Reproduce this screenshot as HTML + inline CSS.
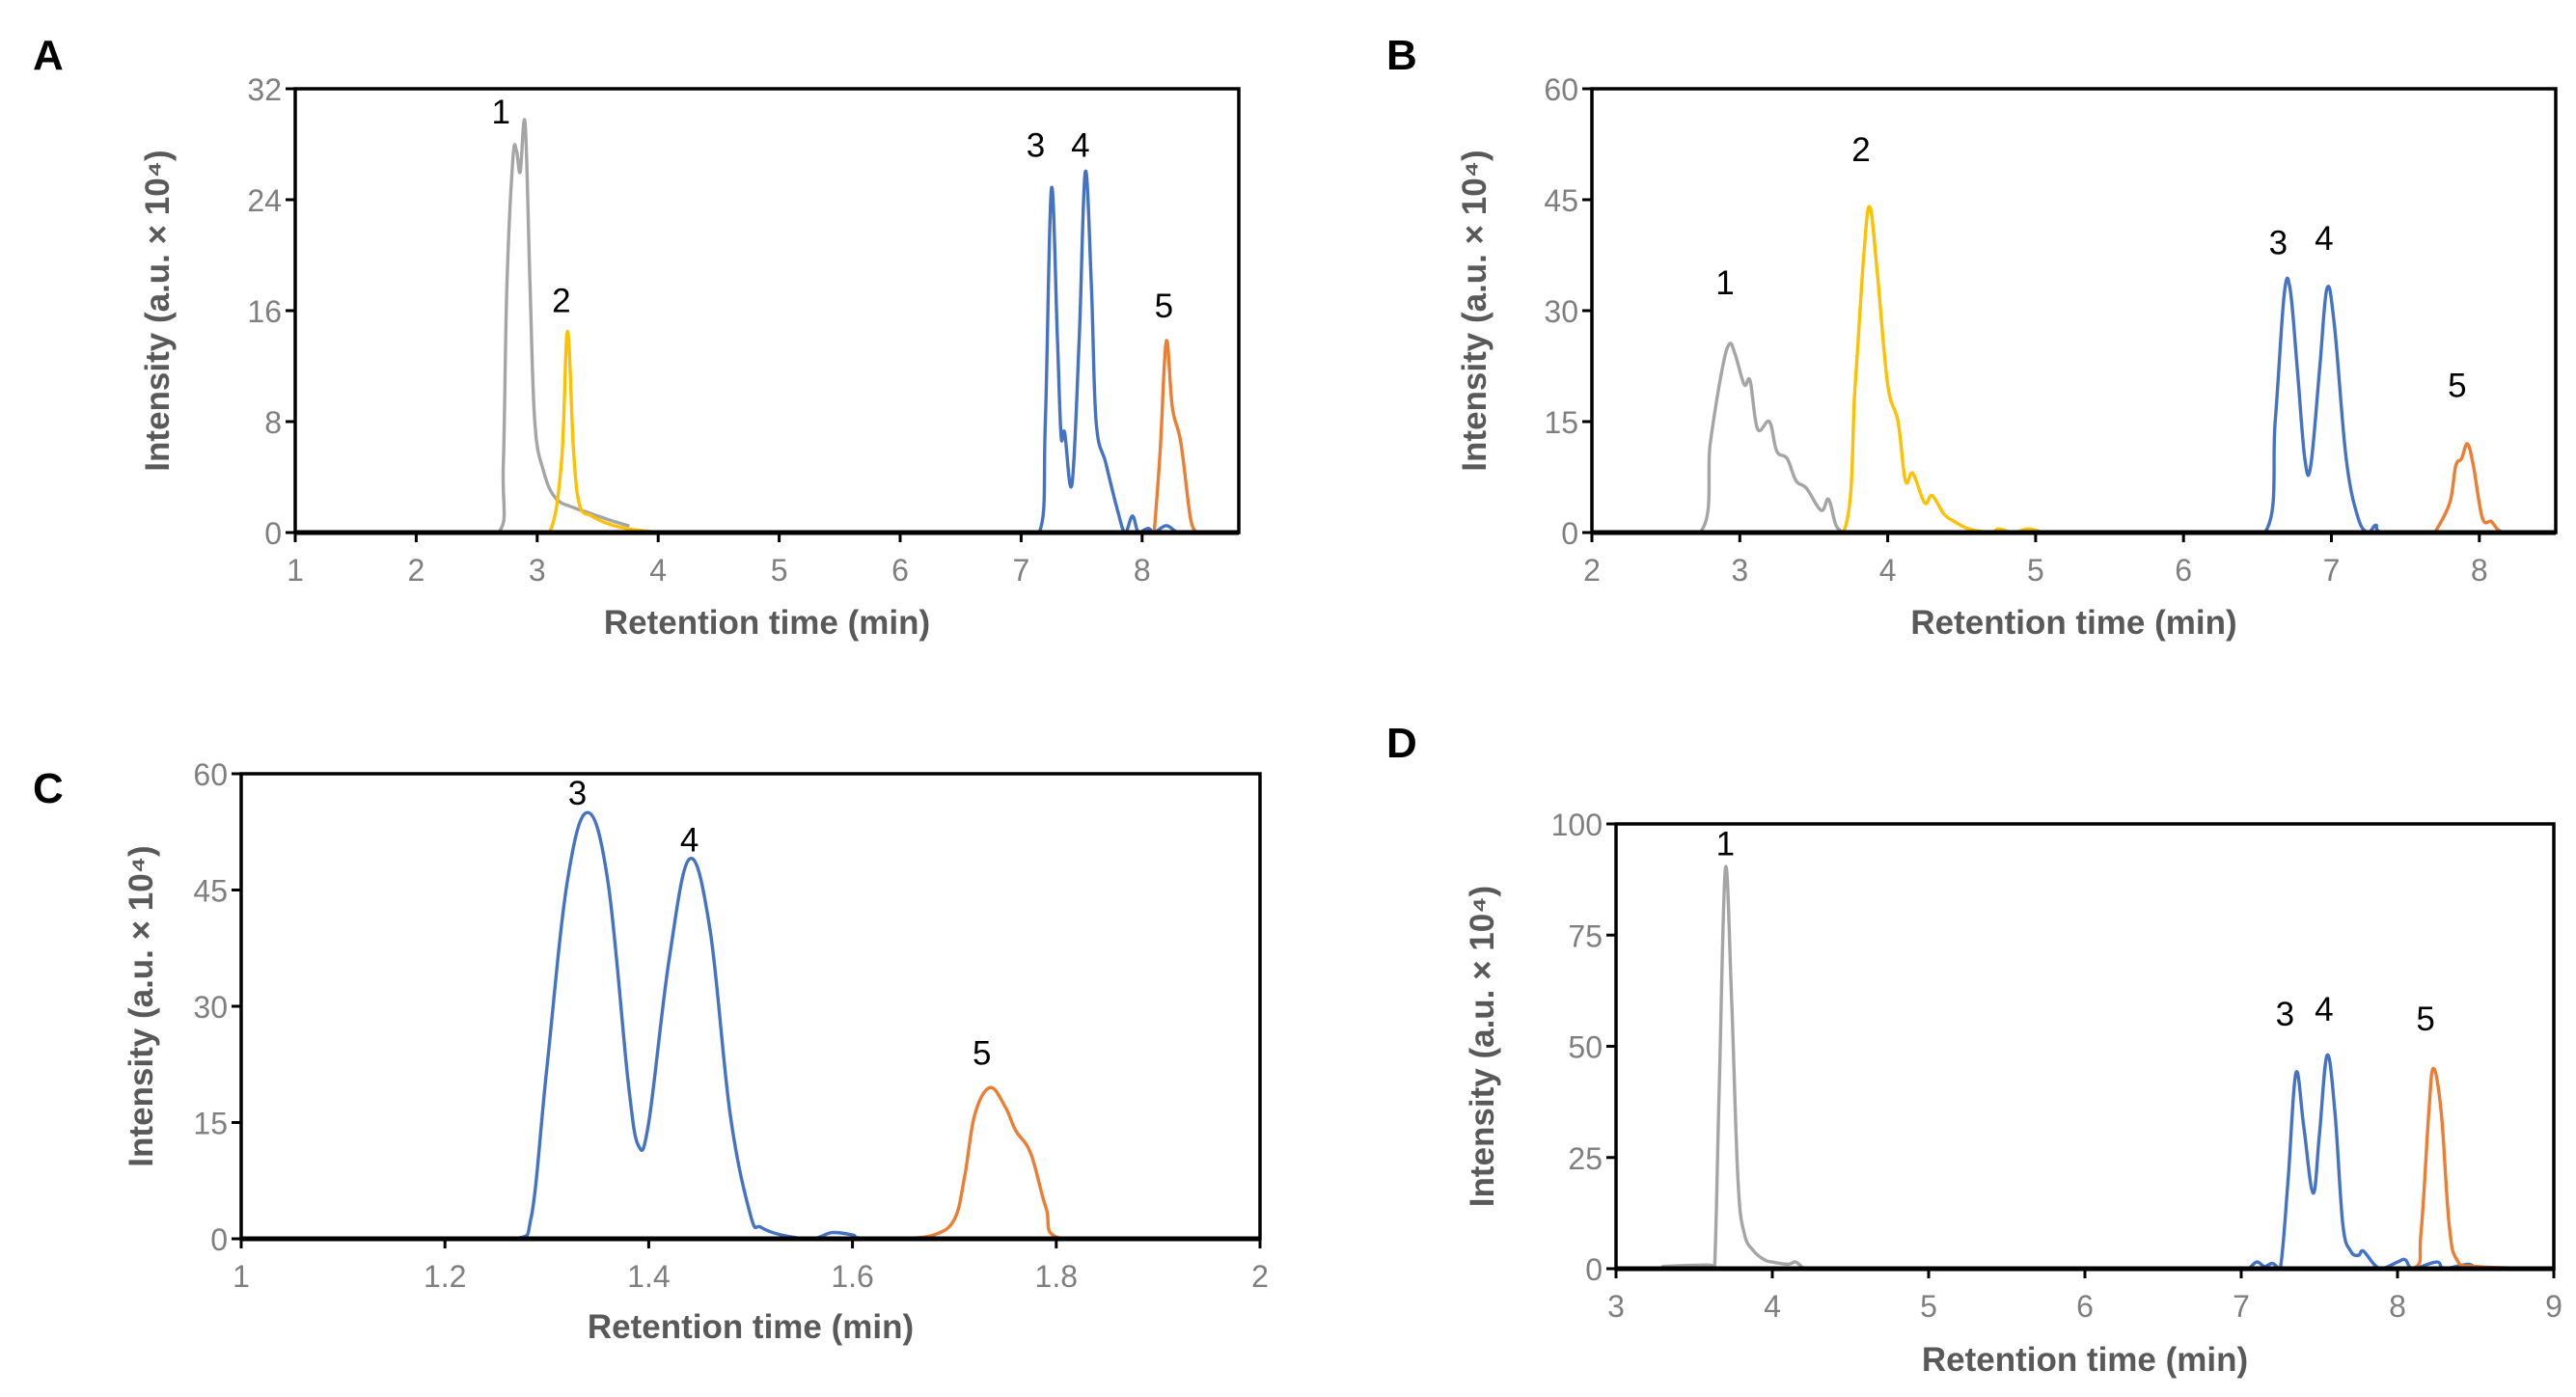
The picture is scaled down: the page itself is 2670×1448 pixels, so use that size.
<!DOCTYPE html>
<html><head><meta charset="utf-8">
<style>
html,body{margin:0;padding:0;background:#fff;}
svg{display:block;}
text{font-family:"Liberation Sans",sans-serif;}
</style></head>
<body>
<svg id="fig" width="2670" height="1448" viewBox="0 0 2670 1448" xmlns="http://www.w3.org/2000/svg"></svg>
<script>
// ---- Panel A data ----
const aGrayX=[2.25,2.68,2.72,2.75,2.8,2.83,2.86,2.9,2.94,2.98,3.05,3.15,3.3,3.4,3.5,3.6,3.75];
const aGrayY=[0,0,5,18,27,27.5,26,29.5,18,8,4.5,2.5,1.8,1.5,1.2,0.9,0.5];
const aYelX=[2.9,3.1,3.2,3.25,3.3,3.35,3.45,3.6,3.8,4.05];
const aYelY=[0,0,5,14.5,6,2,1.2,0.6,0.2,0];
const aBluX=[6.85,7.15,7.2,7.25,7.3,7.33,7.36,7.42,7.48,7.53,7.58,7.62,7.7,7.8,7.86,7.92,7.97,8.05,8.1,8.2,8.3,8.45];
const aBluY=[0,0,8,24.8,14,7,7.2,3.5,14,26,18,8,5,1.5,0,1.2,0,0.3,0,0.5,0,0];
const aOrX=[8.1,8.15,8.2,8.25,8.32,8.4,8.45];
const aOrY=[0,6,13.8,9,6.5,1,0];
const aLabels=["1","2","3","4","5"];
const aLabX=[2.70,3.2,7.12,7.49,8.18];
const aLabY=[29.5,15.9,27.1,27.1,15.5];
const aXTicks=[1,2,3,4,5,6,7,8];
const aYTicks=[0,8,16,24,32];
// ---- Panel B data ----
const bGrayX=[2.25,2.73,2.8,2.88,2.93,2.97,3.03,3.07,3.12,3.2,3.25,3.32,3.38,3.45,3.55,3.6,3.65,3.7];
const bGrayY=[0,0,12,22,25.5,24,20,20.5,14,15,11,10,7,6,3,4.5,1,0];
const bYelX=[3.35,3.7,3.78,3.84,3.88,3.93,4.0,4.07,4.12,4.17,4.25,4.3,4.38,4.45,4.55,4.7,4.75,4.85,4.95,5.05];
const bYelY=[0,0,20,38,44,35,20,15,7,8,4,5,2.5,1.5,0.5,0,0.5,0,0.5,0];
const bBluX=[6.1,6.55,6.62,6.68,6.72,6.77,6.82,6.86,6.92,6.97,7.02,7.1,7.18,7.25,7.3,7.35,7.7];
const bBluY=[0,0,15,32,33,22,10,9,22,33,28,10,2,0,1,0,0];
const bOrX=[7.7,7.8,7.84,7.88,7.92,7.96,8.02,8.08,8.12,8.16];
const bOrY=[0,4,9,10,12,9,2,1.5,0.5,0];
const bLabels=["1","2","3","4","5"];
const bLabX=[2.9,3.82,6.64,6.95,7.85];
const bLabY=[32.2,50.2,37.6,38.2,18.3];
const bXTicks=[2,3,4,5,6,7,8];
const bYTicks=[0,15,30,45,60];
// ---- Panel C data ----
const cBluX=[1.2,1.27,1.285,1.3,1.32,1.34,1.36,1.38,1.39,1.4,1.42,1.44,1.46,1.48,1.5,1.51,1.53,1.56,1.58,1.6,1.62,1.75];
const cBluY=[0,0,3,22,46,55,46,20,12,15,36,49,40,16,3,1.5,0.5,0,0.8,0.5,0,0];
const cOrX=[1.65,1.68,1.7,1.71,1.72,1.735,1.75,1.76,1.775,1.79,1.805,1.9];
const cOrY=[0,0.5,2.5,8,16,19.5,17,14,11,4,0,0];
const cLabels=["3","4","5"];
const cLabX=[1.33,1.44,1.727];
const cLabY=[56,50,22.5];
const cXTicks=[1,1.2,1.4,1.6,1.8,2];
const cYTicks=[0,15,30,45,60];
// ---- Panel D data ----
const dGrayX=[3.3,3.6,3.63,3.66,3.7,3.74,3.78,3.82,3.88,3.95,4.0,4.1,4.15,4.2];
const dGrayY=[0.5,0.8,0,40,90,60,20,8,4,2,1.5,1,1.5,0];
const dBluX=[7.05,7.1,7.15,7.2,7.25,7.3,7.35,7.4,7.46,7.5,7.55,7.6,7.65,7.7,7.75,7.78,7.85,7.9,8.0,8.05,8.1,8.25,8.3,8.45,8.5];
const dBluY=[0,1.5,0.5,1.2,0,20,44,32,17,30,48,35,10,4,3,4,1,0,1.5,2,0,1.5,0,1,0];
const dOrX=[7.75,8.1,8.15,8.2,8.23,8.28,8.33,8.38,8.5,9.0];
const dOrY=[0,0,8,35,45,35,10,2,0.5,0];
const dLabels=["1","3","4","5"];
const dLabX=[3.70,7.28,7.53,8.18];
const dLabY=[93,54.7,55.7,53.6];
const dXTicks=[3,4,5,6,7,8,9];
const dYTicks=[0,25,50,75,100];

const NS="http://www.w3.org/2000/svg";
const svg=document.getElementById('fig');
const COLORS={gray:"#a5a5a5",yellow:"#ffc000",blue:"#4472c4",orange:"#ed7d31"};
function mk(tag,attrs,parent){const e=document.createElementNS(NS,tag);for(const k in attrs)e.setAttribute(k,attrs[k]);(parent||svg).appendChild(e);return e;}

function smoothPath(pts,base){
  let d='M'+pts[0][0].toFixed(1)+','+pts[0][1].toFixed(1);
  const t=0.18;
  for(let i=0;i<pts.length-1;i++){
    const p0=pts[Math.max(0,i-1)],p1=pts[i],p2=pts[i+1],p3=pts[Math.min(pts.length-1,i+2)];
    const c1x=p1[0]+(p2[0]-p0[0])*t,c1y=Math.min(base,p1[1]+(p2[1]-p0[1])*t);
    const c2x=p2[0]-(p3[0]-p1[0])*t,c2y=Math.min(base,p2[1]-(p3[1]-p1[1])*t);
    d+='C'+c1x.toFixed(1)+','+c1y.toFixed(1)+' '+c2x.toFixed(1)+','+c2y.toFixed(1)+' '+p2[0].toFixed(1)+','+p2[1].toFixed(1);
  }
  return d;
}

function panel(p){
  const g=mk('g',{});
  
  
  const sx=v=>p.L+(v-p.x0)/(p.x1-p.x0)*(p.R-p.L);
  const sy=v=>p.B-(v-p.y0)/(p.y1-p.y0)*(p.B-p.T);
  const lt=mk('text',{x:p.lx,y:p.ly,'font-size':44,'font-weight':'bold',fill:'#000'},g);
  lt.textContent=p.id;
  
  
  p.series.forEach(s=>{
    const pts=s.x.map((xv,i)=>[sx(xv),sy(s.y[i])]);
    const path=mk('path',{d:smoothPath(pts,sy(0)),fill:'none',stroke:COLORS[s.c],'stroke-width':3.4,'stroke-linejoin':'round','stroke-linecap':'round'},g);
    
    
  });
  const fr=mk('rect',{x:p.L,y:p.T,width:p.R-p.L,height:p.B-p.T,fill:'none',stroke:'#000','stroke-width':3.5},g);
  
  
  const xa=mk('line',{x1:p.L,x2:p.R,y1:sy(0),y2:sy(0),stroke:'#000','stroke-width':5},g);
  
  
  p.xt.forEach(v=>{
    const x=sx(v);
    const t=mk('line',{x1:x,x2:x,y1:p.B,y2:p.B+10,stroke:'#000','stroke-width':3},g);
    
    
    const tl=mk('text',{x:x,y:p.B+50,'font-size':32,fill:'#7f7f7f','text-anchor':'middle'},g);
    tl.textContent=String(v);
    
    
  });
  p.yt.forEach(v=>{
    const y=sy(v);
    const t=mk('line',{x1:p.L-10,x2:p.L,y1:y,y2:y,stroke:'#000','stroke-width':3},g);
    
    
    const tl=mk('text',{x:p.L-14,y:y+12,'font-size':32,fill:'#7f7f7f','text-anchor':'end'},g);
    tl.textContent=String(v);
    
    
  });
  const xt=mk('text',{x:(p.L+p.R)/2,y:p.xty,'font-size':35,'font-weight':'bold',fill:'#595959','text-anchor':'middle'},g);
  xt.textContent='Retention time (min)';
  
  
  const yt=mk('text',{x:0,y:0,'font-size':35,'font-weight':'bold',fill:'#595959','text-anchor':'middle',transform:'translate('+(p.ytx)+','+((p.T+p.B)/2)+') rotate(-90)'},g);
  yt.textContent='Intensity (a.u. \u00d7 10\u2074)';
  
  
  p.labs.forEach((s,i)=>{
    const t=mk('text',{x:sx(p.labx[i]),y:sy(p.laby[i]),'font-size':35,fill:'#000','text-anchor':'middle'},g);
    t.textContent=s;
    
    
  });
}

panel({id:'A',L:306,R:1284,T:92,B:552,x0:1,x1:1+(1284-306)/125.4,y0:0,y1:32,lx:34,ly:72,xty:657,ytx:175,
  xt:aXTicks,yt:aYTicks,labs:aLabels,labx:aLabX,laby:aLabY,
  series:[{n:'1',c:'gray',x:aGrayX,y:aGrayY},{n:'2',c:'yellow',x:aYelX,y:aYelY},{n:'3-4',c:'blue',x:aBluX,y:aBluY},{n:'5',c:'orange',x:aOrX,y:aOrY}]});
panel({id:'B',L:1650,R:2649,T:92,B:552,x0:2,x1:2+(2649-1650)/153.3,y0:0,y1:60,lx:1437,ly:72,xty:657,ytx:1540,
  xt:bXTicks,yt:bYTicks,labs:bLabels,labx:bLabX,laby:bLabY,
  series:[{n:'1',c:'gray',x:bGrayX,y:bGrayY},{n:'2',c:'yellow',x:bYelX,y:bYelY},{n:'3-4',c:'blue',x:bBluX,y:bBluY},{n:'5',c:'orange',x:bOrX,y:bOrY}]});
panel({id:'C',L:250,R:1306,T:802,B:1284,x0:1,x1:2,y0:0,y1:60,lx:34,ly:832,xty:1387,ytx:158,
  xt:cXTicks,yt:cYTicks,labs:cLabels,labx:cLabX,laby:cLabY,
  series:[{n:'3-4',c:'blue',x:cBluX,y:cBluY},{n:'5',c:'orange',x:cOrX,y:cOrY}]});
panel({id:'D',L:1675,R:2647,T:854,B:1315,x0:3,x1:9,y0:0,y1:100,lx:1437,ly:785,xty:1421,ytx:1548,
  xt:dXTicks,yt:dYTicks,labs:dLabels,labx:dLabX,laby:dLabY,
  series:[{n:'1',c:'gray',x:dGrayX,y:dGrayY},{n:'3-4',c:'blue',x:dBluX,y:dBluY},{n:'5',c:'orange',x:dOrX,y:dOrY}]});
</script>
</body></html>
